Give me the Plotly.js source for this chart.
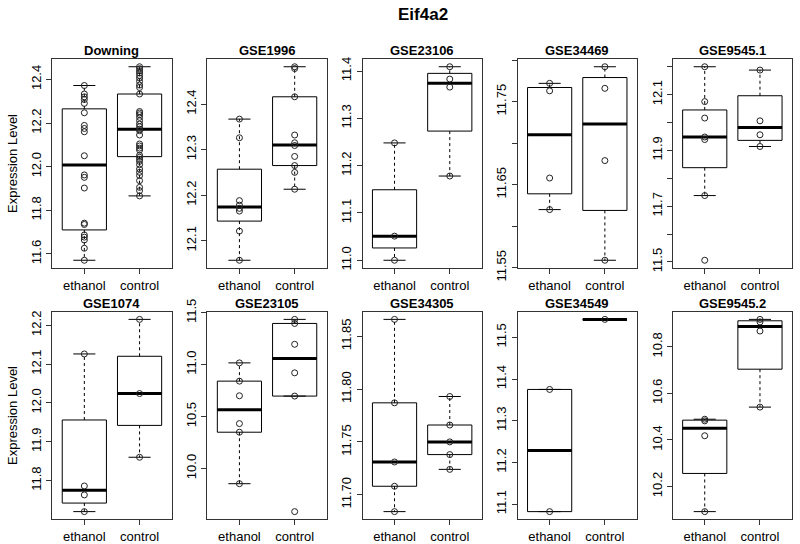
<!DOCTYPE html>
<html>
<head>
<meta charset="utf-8">
<script src="https://cdn.plot.ly/plotly-3.0.1.min.js"></script>
<style>
  body { margin: 0; background: #fff; }
  #plot { width: 800px; height: 544px; }
</style>
</head>
<body>
<div id="plot"></div>
<script>
document.addEventListener("DOMContentLoaded", function() {

  const panels = ['Downing', 'GSE1996', 'GSE23106', 'GSE34469', 'GSE9545.1',
                  'GSE1074', 'GSE23105', 'GSE34305', 'GSE34549', 'GSE9545.2'];
  const groups = ['ethanol', 'control'];

  // expression values, one list per panel
  const ethanolPoints = [
    [12.372, 12.333, 12.320, 12.308, 12.290, 12.247, 12.189, 12.175, 12.160, 12.050,
     11.962, 11.951, 11.902, 11.741, 11.735, 11.687, 11.677, 11.664, 11.626, 11.571],
    [12.367, 12.326, 12.188, 12.178, 12.171, 12.165, 12.121, 12.057],
    [11.248, 11.051, 11.000],
    [11.772, 11.763, 11.658, 11.620],
    [12.200, 12.075, 12.016, 11.948, 11.939, 11.738, 11.506],
    [12.126, 11.786, 11.763, 11.720],
    [11.017, 10.841, 10.700, 10.432, 10.349, 9.853],
    [11.866, 11.787, 11.731, 11.708, 11.684],
    [11.375, 11.082],
    [10.489, 10.482, 10.418, 10.092]
  ];
  const controlPoints = [
    [12.458, 12.449, 12.439, 12.429, 12.418, 12.406, 12.391, 12.374, 12.363, 12.333,
     12.253, 12.246, 12.238, 12.226, 12.211, 12.195, 12.183, 12.172, 12.165, 12.145,
     12.104, 12.095, 12.085, 12.076, 12.052, 12.043, 12.034, 12.024, 12.009, 11.989,
     11.974, 11.959, 11.936, 11.905, 11.890, 11.866],
    [12.482, 12.478, 12.416, 12.332, 12.315, 12.309, 12.285, 12.265, 12.250, 12.213],
    [11.409, 11.383, 11.366, 11.178],
    [11.792, 11.766, 11.679, 11.559],
    [12.188, 12.006, 11.956, 11.914],
    [12.215, 12.024, 11.860],
    [11.436, 11.397, 11.196, 10.921, 10.697, 9.584],
    [11.793, 11.766, 11.750, 11.738, 11.724],
    [11.543],
    [10.918, 10.907, 10.868, 10.541]
  ];

  // box statistics [ethanol, control]
  const q1 = [[11.710, 12.046], [12.143, 12.265], [11.026, 11.273], [11.639, 11.619], [11.838, 11.936],
              [11.742, 11.942], [10.349, 10.697], [11.708, 11.738], [11.082, 11.543], [10.256, 10.704]];
  const med = [[12.008, 12.172], [12.174, 12.310], [11.051, 11.374], [11.710, 11.723], [11.948, 11.982],
               [11.775, 12.024], [10.566, 11.059], [11.731, 11.750], [11.2285, 11.543], [10.450, 10.887]];
  const q3 = [[12.265, 12.333], [12.257, 12.416], [11.149, 11.395], [11.767, 11.779], [12.045, 12.096],
              [11.956, 12.120], [10.841, 11.397], [11.787, 11.766], [11.375, 11.543], [10.485, 10.912]];

  const yTicks = [
    [11.6, 11.8, 12.0, 12.2, 12.4],
    [12.1, 12.2, 12.3, 12.4],
    [11.0, 11.1, 11.2, 11.3, 11.4],
    [11.55, 11.60, 11.65, 11.70, 11.75, 11.80],
    [11.5, 11.6, 11.7, 11.8, 11.9, 12.0, 12.1, 12.2],
    [11.7, 11.8, 11.9, 12.0, 12.1, 12.2],
    [10.0, 10.5, 11.0, 11.5],
    [11.70, 11.75, 11.80, 11.85],
    [11.1, 11.2, 11.3, 11.4, 11.5],
    [10.2, 10.4, 10.6, 10.8]
  ];
  const yTickText = [
    ['11.6', '11.8', '12.0', '12.2', '12.4'],
    ['12.1', '12.2', '12.3', '12.4'],
    ['11.0', '11.1', '11.2', '11.3', '11.4'],
    ['11.55', '', '11.65', '', '11.75', ''],
    ['11.5', '', '11.7', '', '11.9', '', '12.1', ''],
    ['11.7', '11.8', '11.9', '12.0', '12.1', '12.2'],
    ['10.0', '10.5', '11.0', '11.5'],
    ['11.70', '11.75', '11.80', '11.85'],
    ['11.1', '11.2', '11.3', '11.4', '11.5'],
    ['10.2', '10.4', '10.6', '10.8']
  ];

  const W = 800, H = 544;
  const font = 'Liberation Sans, Arial, Helvetica, sans-serif';
  const ink = '#000';
  const frame = '#333';
  const boxW = 0.8;

  const data = [];
  const layout = {
    width: W,
    height: H,
    margin: {l: 0, r: 0, t: 0, b: 0},
    paper_bgcolor: '#fff',
    plot_bgcolor: '#fff',
    showlegend: false,
    font: {family: font, size: 13, color: ink},
    annotations: [{
      text: '<b>Eif4a2</b>', xref: 'paper', yref: 'paper',
      x: 423 / W, y: 1 - 14.5 / H, xanchor: 'center', yanchor: 'middle',
      showarrow: false, font: {size: 17, family: font, color: ink}
    }]
  };

  panels.forEach(function(name, i) {
    const n = i + 1;
    const row = Math.floor(i / 5);
    const col = i % 5;
    const xa = 'x' + (n === 1 ? '' : n);
    const ya = 'y' + (n === 1 ? '' : n);
    const left = 52.3 + 155.1 * col;
    const right = left + 119.3;
    const top = row === 0 ? 59 : 311.7;
    const bottom = row === 0 ? 268 : 519.3;

    const pts = [ethanolPoints[i], controlPoints[i]];
    const all = pts[0].concat(pts[1]);
    const lo = Math.min.apply(null, all);
    const hi = Math.max.apply(null, all);
    const pad = (hi - lo) * 0.04;

    layout['xaxis' + (n === 1 ? '' : n)] = {
      domain: [left / W, right / W],
      anchor: ya,
      range: [0.42, 2.58],
      tickvals: [1, 2],
      ticktext: groups,
      ticks: 'outside', ticklen: 5, tickcolor: frame,
      showline: true, mirror: true, linecolor: frame, linewidth: 1,
      showgrid: false, zeroline: false,
      tickfont: {size: 13, family: font, color: ink}
    };
    layout['yaxis' + (n === 1 ? '' : n)] = {
      domain: [1 - bottom / H, 1 - top / H],
      anchor: xa,
      range: [lo - pad, hi + pad],
      tickvals: yTicks[i],
      ticktext: yTickText[i],
      tickangle: -90,
      ticks: 'outside', ticklen: 5, tickcolor: frame,
      showline: true, mirror: true, linecolor: frame, linewidth: 1,
      showgrid: false, zeroline: false,
      tickfont: {size: 13, family: font, color: ink}
    };

    layout.annotations.push({
      text: '<b>' + name + '</b>', xref: 'paper', yref: 'paper',
      x: (left + right) / 2 / W, y: 1 - (top - 8.5) / H,
      xanchor: 'center', yanchor: 'middle', showarrow: false,
      font: {size: 13, family: font, color: ink}
    });
    if (col === 0) {
      layout.annotations.push({
        text: 'Expression Level', xref: 'paper', yref: 'paper',
        x: 12.5 / W, y: 1 - (top + bottom) / 2 / H,
        xanchor: 'center', yanchor: 'middle', textangle: -90, showarrow: false,
        font: {size: 13, family: font, color: ink}
      });
    }

    // boxes (whiskers drawn separately so they can be dashed)
    data.push({
      type: 'box', x: [1, 2], xaxis: xa, yaxis: ya,
      q1: q1[i], median: med[i], q3: q3[i],
      lowerfence: q1[i], upperfence: q3[i],
      width: boxW, whiskerwidth: 0,
      line: {color: ink, width: 1}, fillcolor: 'rgba(0,0,0,0)',
      hoverinfo: 'skip'
    });

    const medX = [], medY = [], whX = [], whY = [], stX = [], stY = [], ptX = [], ptY = [];
    [0, 1].forEach(function(g) {
      const x = g + 1;
      const a = q1[i][g], m = med[i][g], b = q3[i][g];
      const iqr = b - a;
      const inside = pts[g].filter(function(v) {
        return v >= a - 1.5 * iqr && v <= b + 1.5 * iqr;
      });
      const wLo = Math.min(a, Math.min.apply(null, inside));
      const wHi = Math.max(b, Math.max.apply(null, inside));

      medX.push(x - boxW / 2, x + boxW / 2, null);
      medY.push(m, m, null);
      whX.push(x, x, null, x, x, null);
      whY.push(b, wHi, null, a, wLo, null);
      stX.push(x - boxW / 4, x + boxW / 4, null, x - boxW / 4, x + boxW / 4, null);
      stY.push(wHi, wHi, null, wLo, wLo, null);
      pts[g].forEach(function(v) {
        ptX.push(x);
        ptY.push(v);
      });
    });

    data.push({
      type: 'scatter', mode: 'lines', x: whX, y: whY, xaxis: xa, yaxis: ya,
      line: {color: ink, width: 1, dash: '3px,3px'}, hoverinfo: 'skip'
    });
    data.push({
      type: 'scatter', mode: 'lines', x: stX, y: stY, xaxis: xa, yaxis: ya,
      line: {color: ink, width: 1}, hoverinfo: 'skip'
    });
    data.push({
      type: 'scatter', mode: 'lines', x: medX, y: medY, xaxis: xa, yaxis: ya,
      line: {color: ink, width: 3}, hoverinfo: 'skip'
    });
    data.push({
      type: 'scatter', mode: 'markers', x: ptX, y: ptY, xaxis: xa, yaxis: ya,
      marker: {symbol: 'circle-open', size: 6, color: '#222', line: {width: 1}},
      hoverinfo: 'skip'
    });
  });

  Plotly.newPlot('plot', data, layout, {staticPlot: true});

});
</script>
</body>
</html>
